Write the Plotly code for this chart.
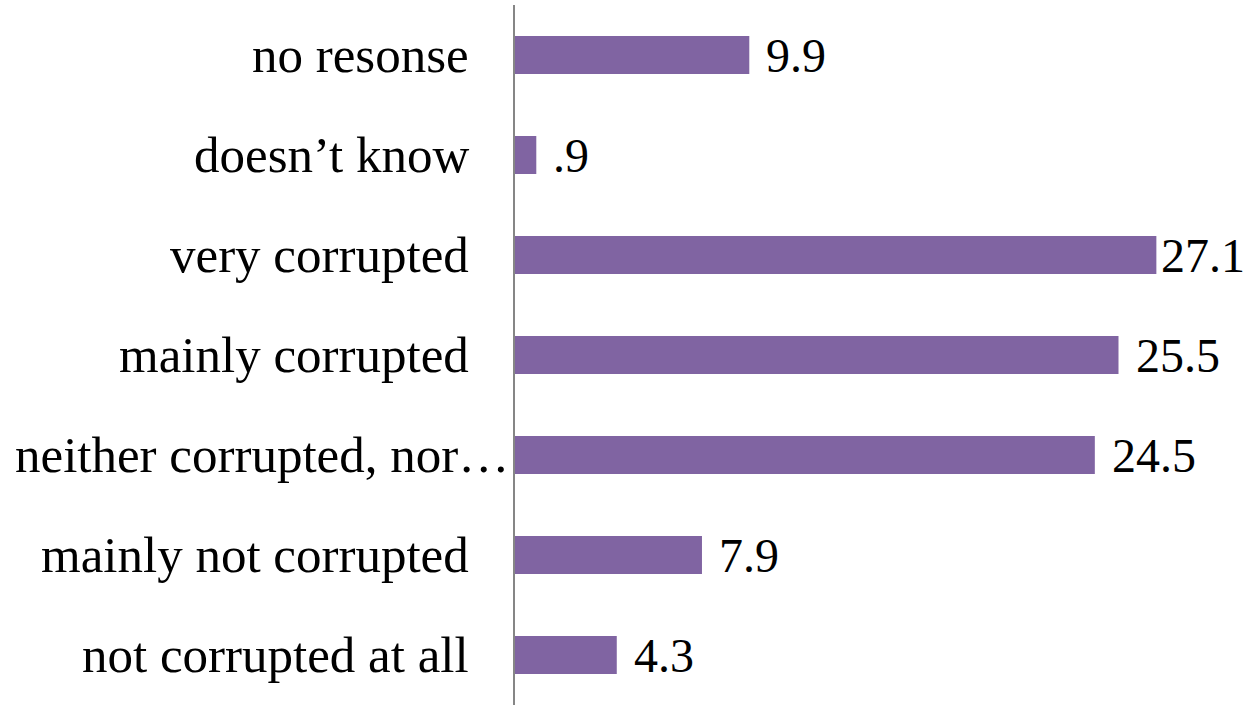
import plotly.graph_objects as go

# Survey responses (percent), listed bottom to top
categories = [
    "not corrupted at all",
    "mainly not corrupted",
    "neither corrupted, nor\u2026",
    "mainly corrupted",
    "very corrupted",
    "doesn\u2019t know",
    "no resonse",
]
values = [4.3, 7.9, 24.5, 25.5, 27.1, 0.9, 9.9]
value_labels = ["4.3", "7.9", "24.5", "25.5", "27.1", ".9", "9.9"]

FONT = "Liberation Serif"
LABEL_SIZE = 51
VALUE_SIZE = 48
BAR_COLOR = "#8064A2"
X_MAX = 30

fig = go.Figure(
    go.Bar(
        x=values,
        y=categories,
        orientation="h",
        marker=dict(color=BAR_COLOR, line=dict(width=0)),
        width=0.38,
    )
)

# Category names, right-aligned left of the axis line
for cat in categories:
    truncated = cat.endswith("\u2026")
    fig.add_annotation(
        x=0, y=cat, xref="x", yref="y",
        text=cat, showarrow=False,
        xanchor="right", yanchor="middle",
        xshift=-4 if truncated else -44,
        font=dict(family=FONT, size=LABEL_SIZE, color="black"),
    )

# Value labels just beyond each bar end
for cat, v, lbl in zip(categories, values, value_labels):
    fig.add_annotation(
        x=v, y=cat, xref="x", yref="y",
        text=lbl, showarrow=False,
        xanchor="left", yanchor="middle",
        xshift=3 if v > 26 else 15,
        font=dict(family=FONT, size=VALUE_SIZE, color="black"),
    )

fig.update_layout(
    width=1252,
    height=705,
    margin=dict(l=515, r=27, t=5, b=0),
    paper_bgcolor="white",
    plot_bgcolor="white",
    showlegend=False,
    bargap=0.62,
)
fig.update_xaxes(
    range=[0, X_MAX], showgrid=False, zeroline=False,
    showticklabels=False, ticks="", showline=False,
)
fig.update_yaxes(
    categoryorder="array", categoryarray=categories,
    showgrid=False, zeroline=False, showticklabels=False, ticks="",
    showline=True, linecolor="#868686", linewidth=2,
)

fig.write_html("out.html")
